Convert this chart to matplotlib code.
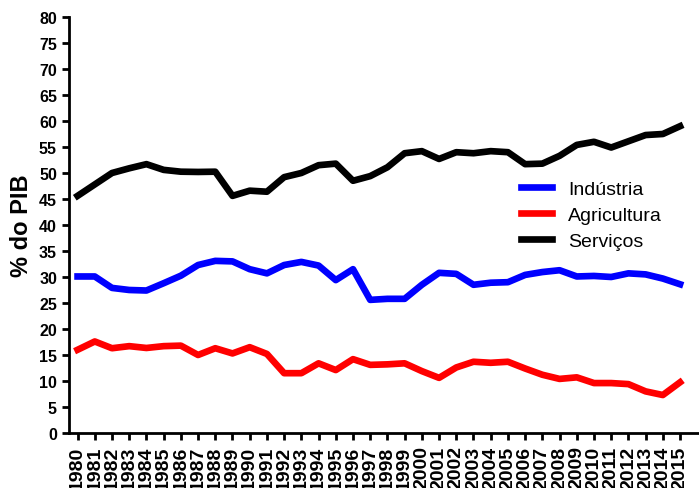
import matplotlib
matplotlib.use("Agg")
import matplotlib.pyplot as plt

years = list(range(1980, 2016))

industria = [30.1, 30.1, 27.9, 27.5, 27.4, 28.8, 30.25, 32.3, 33.1, 33.0,
             31.5, 30.7, 32.3, 32.9, 32.2, 29.4, 31.5, 25.6, 25.8, 25.8,
             28.5, 30.8, 30.6, 28.5, 28.9, 29.0, 30.4, 30.95, 31.3, 30.1,
             30.2, 30.0, 30.7, 30.5, 29.7, 28.6]

agricultura = [16.0, 17.6, 16.3, 16.7, 16.35, 16.7, 16.8, 15.0, 16.3, 15.3,
               16.5, 15.2, 11.5, 11.5, 13.4, 12.1, 14.2, 13.1, 13.2, 13.4,
               11.9, 10.6, 12.6, 13.7, 13.5, 13.7, 12.4, 11.2, 10.4, 10.7,
               9.6, 9.6, 9.4, 8.0, 7.3, 9.75]

servicos = [45.6, 47.8, 50.0, 50.9, 51.7, 50.6, 50.25, 50.2, 50.25, 45.6,
            46.6, 46.4, 49.2, 50.0, 51.5, 51.8, 48.5, 49.4, 51.1, 53.8,
            54.2, 52.7, 54.0, 53.8, 54.2, 54.0, 51.7, 51.8, 53.3, 55.4,
            56.0, 54.9, 56.1, 57.3, 57.5, 59.0]

plt.rcParams['font.family'] = ['Liberation Sans', 'DejaVu Sans']

fig = plt.figure(figsize=(6.99, 4.89), dpi=100)
ax = fig.add_axes([0.0994, 0.1125, 0.9006, 0.8507])

ax.plot(years, industria, color='#0000ff', lw=4.8, label='Indústria')
ax.plot(years, agricultura, color='#ff0000', lw=4.8, label='Agricultura')
ax.plot(years, servicos, color='#000000', lw=4.8, label='Serviços')

ax.set_xlim(1979.53, 2016.1)
ax.set_ylim(0, 80)
ax.set_yticks(range(0, 81, 5))
ax.set_xticks(years)
ax.set_xticklabels([str(y) for y in years], rotation=90, fontsize=14,
                   fontweight='bold')
for lab in ax.get_yticklabels():
    lab.set_fontsize(11.5)
    lab.set_fontweight('bold')

ax.spines['top'].set_visible(False)
ax.spines['right'].set_visible(False)
ax.spines['left'].set_linewidth(2)
ax.spines['bottom'].set_linewidth(2)
ax.tick_params(axis='y', width=2, length=5, pad=4)
ax.tick_params(axis='x', width=2, length=5, pad=4)

ax.set_ylabel('% do PIB', fontsize=17, fontweight='bold', labelpad=4)

ax.legend(loc='upper left', bbox_to_anchor=(0.69, 0.649), frameon=False,
          fontsize=14, handlelength=1.6, handletextpad=0.82, labelspacing=0.43)

fig.savefig('out.png', dpi=100)
